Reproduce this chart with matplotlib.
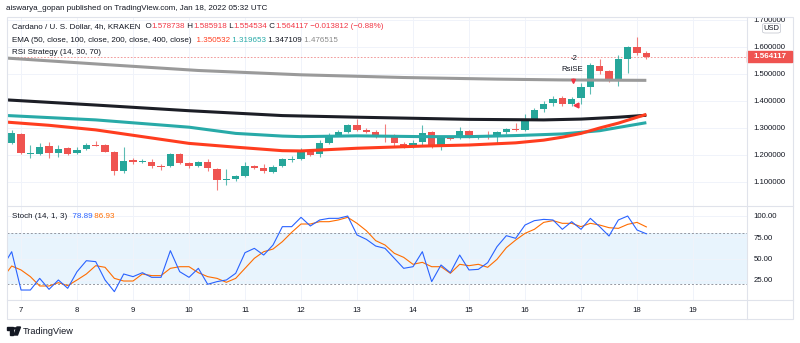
import numpy as np
import matplotlib
matplotlib.use('Agg')
import matplotlib.pyplot as plt
from matplotlib.patches import Rectangle, FancyBboxPatch, Polygon, Circle
from matplotlib.lines import Line2D

plt.rcParams['font.family'] = ['Liberation Sans', 'DejaVu Sans']

# ADA/USD 4h candles, first one is Jan 6 20:00
opens = [1.244, 1.278, 1.205, 1.205, 1.233, 1.206, 1.225, 1.207, 1.221, 1.238,
         1.237, 1.212, 1.141, 1.182, 1.173, 1.175, 1.158, 1.160, 1.203, 1.169,
         1.160, 1.175, 1.147, 1.106, 1.110, 1.122, 1.159, 1.153, 1.138, 1.159,
         1.182, 1.184, 1.216, 1.204, 1.243, 1.274, 1.286, 1.311, 1.293, 1.286,
         1.274, 1.266, 1.241, 1.229, 1.247, 1.284, 1.233, 1.264, 1.262, 1.290,
         1.266, 1.269, 1.266, 1.284, 1.296, 1.293, 1.333, 1.369, 1.392, 1.410,
         1.389, 1.410, 1.453, 1.531, 1.512, 1.480, 1.556, 1.601, 1.578738]
highs = [1.293, 1.283, 1.237, 1.243, 1.247, 1.237, 1.228, 1.230, 1.243, 1.250,
         1.240, 1.215, 1.229, 1.190, 1.187, 1.185, 1.168, 1.207, 1.206, 1.175,
         1.177, 1.186, 1.150, 1.147, 1.125, 1.174, 1.162, 1.165, 1.162, 1.190,
         1.196, 1.227, 1.222, 1.254, 1.281, 1.292, 1.315, 1.333, 1.300, 1.294,
         1.316, 1.278, 1.249, 1.257, 1.310, 1.290, 1.270, 1.268, 1.305, 1.294,
         1.270, 1.290, 1.290, 1.300, 1.320, 1.352, 1.375, 1.400, 1.420, 1.420,
         1.415, 1.466, 1.541, 1.554, 1.516, 1.570, 1.604, 1.637, 1.585918]
lows = [1.240, 1.205, 1.190, 1.200, 1.190, 1.194, 1.200, 1.203, 1.218, 1.234,
        1.210, 1.126, 1.135, 1.168, 1.170, 1.152, 1.146, 1.156, 1.165, 1.153,
        1.157, 1.141, 1.070, 1.090, 1.105, 1.120, 1.148, 1.133, 1.133, 1.157,
        1.175, 1.180, 1.197, 1.193, 1.240, 1.270, 1.283, 1.290, 1.282, 1.264,
        1.248, 1.233, 1.225, 1.225, 1.237, 1.226, 1.219, 1.255, 1.258, 1.264,
        1.258, 1.260, 1.240, 1.278, 1.290, 1.290, 1.328, 1.360, 1.380, 1.383,
        1.380, 1.389, 1.425, 1.500, 1.470, 1.456, 1.503, 1.570, 1.554534]
closes = [1.281, 1.207, 1.208, 1.231, 1.206, 1.221, 1.203, 1.218, 1.237, 1.235,
          1.212, 1.141, 1.178, 1.173, 1.178, 1.160, 1.156, 1.203, 1.169, 1.160,
          1.173, 1.151, 1.107, 1.110, 1.122, 1.159, 1.151, 1.141, 1.157, 1.184,
          1.185, 1.216, 1.200, 1.243, 1.274, 1.285, 1.311, 1.292, 1.287, 1.271,
          1.268, 1.243, 1.235, 1.246, 1.283, 1.231, 1.264, 1.260, 1.290, 1.268,
          1.267, 1.267, 1.284, 1.295, 1.292, 1.332, 1.367, 1.389, 1.406, 1.389,
          1.408, 1.453, 1.533, 1.512, 1.481, 1.555, 1.601, 1.578738, 1.564117]

# EMA lines, read at a few candle indices
ema50_idx = [-1, 4, 9, 14, 19, 24, 29, 31, 37, 44, 49, 54, 57, 59, 61, 63, 65, 68]
ema50_val = [1.323, 1.310, 1.293, 1.268, 1.243, 1.229, 1.216, 1.215, 1.225, 1.233,
             1.237, 1.245, 1.255, 1.266, 1.280, 1.300, 1.318, 1.3505]
ema100_idx = [-1, 9, 19, 24, 29, 31, 37, 44, 49, 54, 59, 63, 65, 68]
ema100_val = [1.347, 1.330, 1.303, 1.280, 1.270, 1.268, 1.271, 1.268, 1.268, 1.272,
              1.278, 1.290, 1.302, 1.3197]
ema200_idx = [-1, 9, 19, 29, 37, 49, 57, 61, 65, 68]
ema200_val = [1.405, 1.385, 1.364, 1.346, 1.340, 1.332, 1.330, 1.333, 1.340, 1.3471]
ema400_idx = [-1, 10, 20, 31, 42, 52, 59, 68]
ema400_val = [1.560, 1.535, 1.513, 1.497, 1.487, 1.481, 1.478, 1.4765]

# stochastic, starting one candle before the first visible one
stoch_k = [40.0, 58.0, 13.3, 13.3, 26.9, 14.1, 25.0, 15.3, 34.7, 47.5, 46.4, 25.0,
           11.4, 32.0, 28.9, 33.5, 28.1, 28.1, 59.2, 34.7, 28.1, 38.6, 20.0, 23.1,
           25.0, 32.8, 56.9, 61.9, 54.1, 65.8, 87.2, 87.2, 98.1, 88.0, 95.0, 96.9,
           96.9, 99.6, 77.5, 72.4, 64.6, 61.9, 50.3, 38.6, 40.5, 58.0, 23.1, 42.5,
           33.5, 54.1, 36.7, 37.4, 45.2, 63.9, 76.7, 73.6, 89.1, 94.2, 95.7, 95.0,
           84.1, 93.0, 84.1, 96.9, 87.2, 76.3, 95.0, 99.6, 83.3, 78.89]
stoch_d = [26.9, 41.3, 36.7, 28.9, 18.0, 18.0, 21.9, 18.4, 25.0, 32.0, 41.7, 39.8,
           26.9, 23.8, 23.8, 32.0, 30.1, 30.1, 38.6, 40.5, 40.5, 33.5, 28.9, 26.9,
           22.3, 26.9, 38.6, 50.3, 58.0, 61.1, 69.7, 80.6, 90.3, 90.3, 93.0, 93.0,
           95.0, 98.1, 91.1, 82.5, 70.9, 65.8, 56.1, 51.4, 43.3, 45.6, 40.5, 40.5,
           32.8, 43.3, 41.7, 43.3, 39.8, 49.1, 62.7, 71.6, 79.4, 84.1, 92.2, 94.2,
           91.1, 91.1, 87.2, 91.1, 89.1, 86.0, 85.2, 89.9, 92.2, 86.93]

day_labels = ['7', '8', '9', '10', '11', '12', '13', '14', '15', '16', '17', '18', '19']
price_ticks = [1.1, 1.2, 1.3, 1.4, 1.5, 1.6, 1.7]
stoch_ticks = [25, 50, 75, 100]
last_price = 1.564117

UP = '#26a69a'
DN = '#ef5350'
RED = '#f23645'
TXT = '#131722'
GRID = '#f0f3fa'
BORDER = '#e0e3eb'
W, H = 800, 343


def fx(x):
    return x / W


def fy(y):
    return 1 - y / H


fig = plt.figure(figsize=(8, 3.43), dpi=100)
fig.patch.set_facecolor('white')

ax = fig.add_axes([fx(7), fy(206), fx(740), 189 / H])
ax2 = fig.add_axes([fx(7), fy(300), fx(740), 94 / H])
ax.set_facecolor('none')
ax2.set_facecolor('none')

o = np.array(opens)
h = np.array(highs)
l = np.array(lows)
c = np.array(closes)
idx = np.arange(len(o))
cols = np.where(c >= o, UP, DN)

ax.vlines(idx, l, h, colors=cols, lw=0.8, alpha=0.75, zorder=3)
ax.bar(idx, np.maximum(np.abs(c - o), 0.0018), bottom=np.minimum(o, c),
       width=0.76, color=cols, zorder=4, lw=0)

ax.plot(ema400_idx, ema400_val, color='#9a9a9a', lw=2.2, zorder=5, solid_capstyle='butt')
ax.plot(ema200_idx, ema200_val, color='#1c1e26', lw=2.2, zorder=5, solid_capstyle='butt')
ax.plot(ema100_idx, ema100_val, color='#28aaa8', lw=2.2, zorder=5, solid_capstyle='butt')
ax.plot(ema50_idx, ema50_val, color='#ff3d1f', lw=2.2, zorder=6, solid_capstyle='butt')

ax.axhline(last_price, color='#f08a8a', lw=0.6, ls=(0, (2, 2)), zorder=2)

# strategy signal
ax.annotate('', xy=(60.2, 1.450), xytext=(60.2, 1.490),
            arrowprops=dict(arrowstyle='-|>', color=RED, lw=1.2,
                            mutation_scale=6), zorder=7)
ax.text(60.3, 1.559, '-2', fontsize=5.6, color=TXT, ha='center', va='center')
ax.text(60.1, 1.518, 'RsiSE', fontsize=5.6, color=TXT, ha='center', va='center')
ax.plot([60.5], [1.384], marker='<', ms=3.5, color=RED, zorder=7)

xmin = (7 - 11.7) / 9.333
xmax = (747 - 11.7) / 9.333
day_idx = [1 + 6 * k for k in range(len(day_labels))]

ax.set_xlim(xmin, xmax)
ax.set_ylim(1.0111, 1.7111)
ax.set_xticks(day_idx)
ax.set_xticklabels([])
ax.set_yticks(price_ticks)
ax.set_yticklabels(['%.6f' % v for v in price_ticks])
ax.yaxis.tick_right()
ax.tick_params(axis='both', length=0, labelsize=5.6, labelcolor=TXT, pad=4.5)
ax.grid(color=GRID, lw=0.7, zorder=0)

xs = np.arange(-1, len(stoch_k) - 1)
ax2.axhspan(20, 80, color='#2196f3', alpha=0.1, lw=0, zorder=1)
ax2.axhline(80, color='#9598a1', lw=0.7, ls=(0, (2, 2)), zorder=2)
ax2.axhline(20, color='#9598a1', lw=0.7, ls=(0, (2, 2)), zorder=2)
ax2.plot(xs, stoch_d, color='#ff6d00', lw=0.8, zorder=4)
ax2.plot(xs, stoch_k, color='#2962ff', lw=0.8, zorder=5)
ax2.set_xlim(xmin, xmax)
ax2.set_ylim(1.66, 111.3)
ax2.set_xticks(day_idx)
ax2.set_xticklabels(day_labels)
ax2.set_yticks(stoch_ticks)
ax2.set_yticklabels(['%.2f' % v for v in stoch_ticks])
ax2.yaxis.tick_right()
ax2.tick_params(axis='y', length=0, labelsize=5.6, labelcolor=TXT, pad=4.5)
ax2.tick_params(axis='x', length=0, labelsize=5.6, labelcolor=TXT, pad=5)
ax2.grid(color=GRID, lw=0.7, zorder=0)

for a in (ax, ax2):
    for s in a.spines.values():
        s.set_visible(False)

# frame and separators
fig.add_artist(Rectangle((fx(7), fy(319)), fx(786), 302 / H, fill=False,
                         ec=BORDER, lw=0.8, transform=fig.transFigure))
for y in (206, 300):
    fig.add_artist(Line2D([fx(7), fx(793)], [fy(y), fy(y)], color=BORDER, lw=0.8))
fig.add_artist(Line2D([fx(747), fx(747)], [fy(17), fy(319)], color=BORDER, lw=0.8))

# price label and currency box
fig.add_artist(Rectangle((fx(747), fy(62)), fx(45), 10.5 / H, color='#ef5350',
                         transform=fig.transFigure))
fig.text(fx(769.5), fy(57), '%.6f' % last_price, color='white', fontsize=5.8,
         fontweight='bold', ha='center', va='center')
fig.add_artist(FancyBboxPatch((fx(762.5), fy(33)), fx(18), 9.5 / H,
                              boxstyle='round,pad=0,rounding_size=0.004',
                              fc='white', ec='#c9ccd4', lw=0.6,
                              transform=fig.transFigure, zorder=10))
fig.text(fx(771.5), fy(28), 'USD', color=TXT, fontsize=5.4, ha='center',
         va='center', zorder=11)

fig.text(fx(6), fy(8.5), 'aiswarya_gopan published on TradingView.com, Jan 18, 2022 05:32 UTC',
         color=TXT, fontsize=5.8, va='center')


def legend_line(axes, x, y, parts, size=5.8):
    # chain coloured pieces one after another
    t = fig.text(fx(x), fy(y), parts[0][0], color=parts[0][1], fontsize=size,
                 va='center', ha='left', zorder=20)
    for s, col in parts[1:]:
        t = axes.annotate(s, xy=(1, 0), xycoords=t, va='bottom', ha='left',
                          color=col, fontsize=size, annotation_clip=False, zorder=20)


legend_line(ax, 12.5, 27, [('Cardano / U. S. Dollar, 4h, KRAKEN', TXT), ('  O', TXT),
                           ('1.578738', RED), (' H', TXT), ('1.585918', RED),
                           (' L', TXT), ('1.554534', RED), (' C', TXT),
                           ('1.564117', RED), (' \u22120.013812 (\u22120.88%)', RED)])
legend_line(ax, 12.5, 40, [('EMA (50, close, 100, close, 200, close, 400, close)', TXT),
                           ('  1.350532', '#ff3d1f'), (' 1.319653', '#28aaa8'),
                           (' 1.347109', TXT), (' 1.476515', '#8a8a8a')])
legend_line(ax, 12.5, 52, [('RSI Strategy (14, 30, 70)', TXT)])
legend_line(ax2, 12.5, 216.5, [('Stoch (14, 1, 3)', TXT), ('  78.89', '#2962ff'),
                               (' 86.93', '#ff6d00')])

# TradingView logo
fig.add_artist(Polygon([(fx(7), fy(327)), (fx(13), fy(327)), (fx(13), fy(335)),
                        (fx(10), fy(335)), (fx(10), fy(329.5)), (fx(7), fy(329.5))],
                       closed=True, color=TXT, transform=fig.transFigure))
fig.add_artist(Circle((fx(15), fy(328.4)), 1.3 / W, color=TXT, transform=fig.transFigure))
fig.add_artist(Polygon([(fx(17), fy(327)), (fx(20.5), fy(327)), (fx(17.5), fy(335)),
                        (fx(14), fy(335))], closed=True, color=TXT,
                       transform=fig.transFigure))
fig.text(fx(22.5), fy(331), 'TradingView', color=TXT, fontsize=6.6, va='center')

fig.savefig('out.png', dpi=100, facecolor='white')
